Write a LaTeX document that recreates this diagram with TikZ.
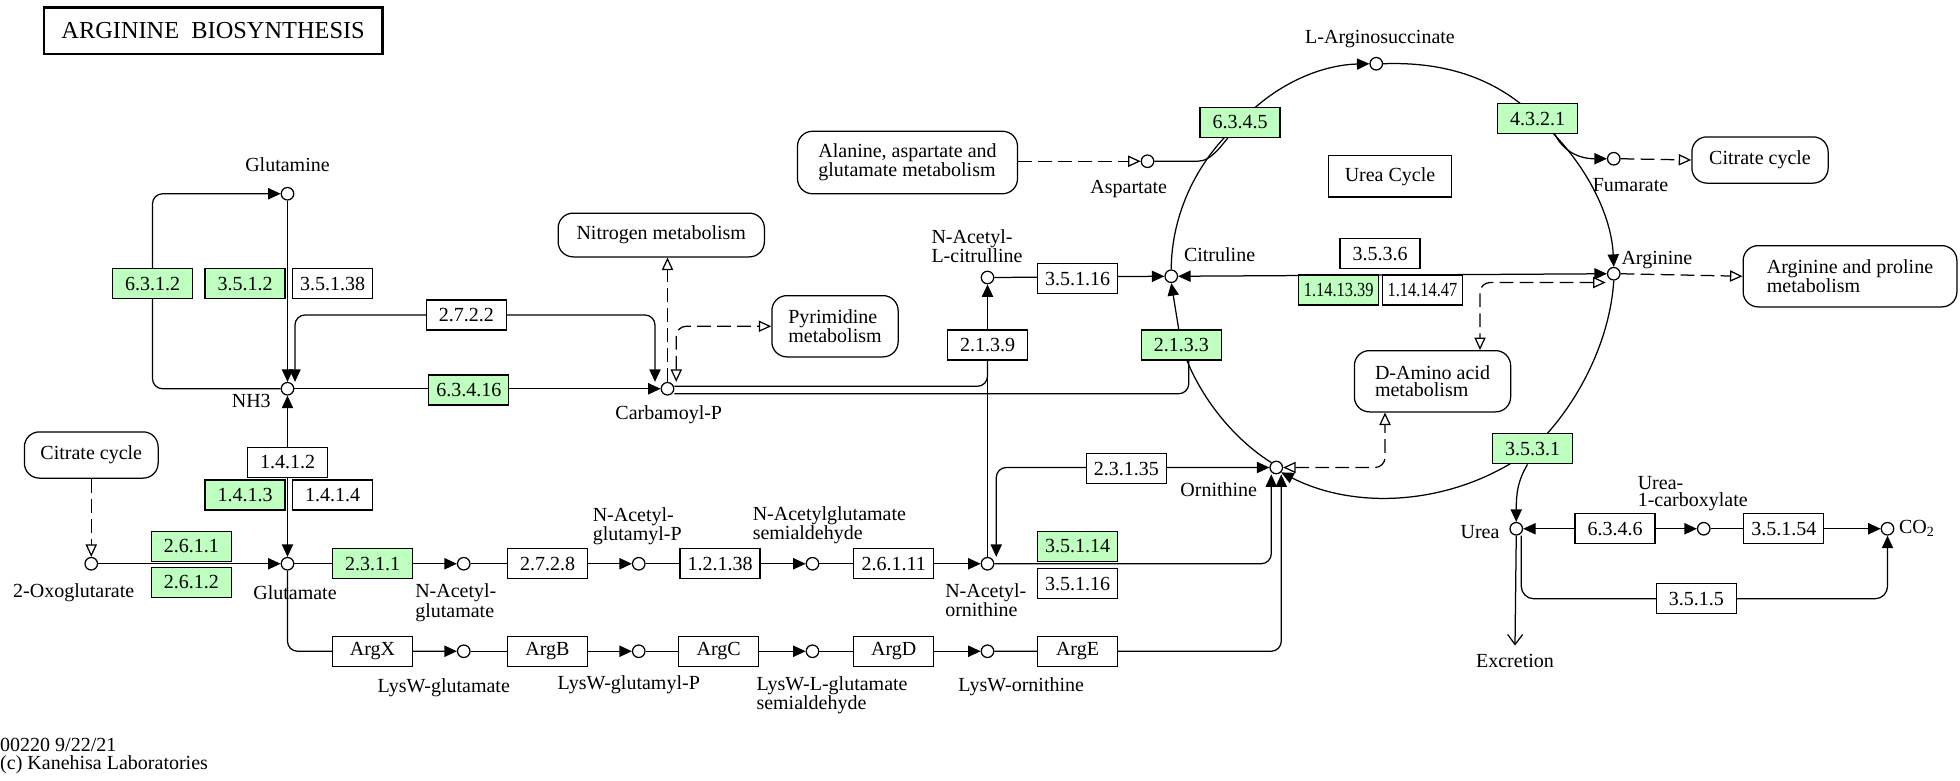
\documentclass[tikz,border=0pt]{standalone}
\usepackage{fontspec}
\setmainfont{Liberation Serif}
\usetikzlibrary{arrows.meta,calc,backgrounds}
\definecolor{kgreen}{RGB}{191,255,191}
\begin{document}
\begin{tikzpicture}[x=1pt,y=-1pt,
  every node/.style={font=\fontsize{16}{14}\selectfont},
  cpd/.style={circle,draw,fill=white,minimum size=10pt,inner sep=0pt,line width=1pt},
  enz/.style={draw,fill=white,minimum width=64pt,minimum height=24pt,inner sep=0pt,line width=1pt},
  genz/.style={enz,fill=kgreen},
  mapbox/.style={draw,rounded corners=12pt,fill=white,align=left,line width=1pt,inner sep=0pt},
  lbl/.style={inner sep=0pt},
  lbll/.style={inner sep=0pt,align=left,anchor=west},
  conn/.style={line width=1pt},
  arr/.style={conn,-{Triangle[length=10pt,width=9pt]}},
  arrb/.style={conn,{Triangle[length=10pt,width=9pt]}-{Triangle[length=10pt,width=9pt]}},
  oarr/.style={conn,dash pattern=on 11pt off 5pt,-{Triangle[open,length=10pt,width=9pt,fill=white]}},
  oarrb/.style={conn,dash pattern=on 11pt off 5pt,{Triangle[open,length=10pt,width=9pt,fill=white]}-{Triangle[open,length=10pt,width=9pt,fill=white]}},
]
\useasboundingbox (0,0) rectangle (1568,624);

% title
\node[draw,line width=2pt,minimum width=271pt,minimum height=37pt,inner sep=0pt,font=\fontsize{19.5}{20}\selectfont] (title) at (170.5,24.5) {ARGININE\ \ BIOSYNTHESIS};

% compounds
\node[cpd] (glutamine) at (230,155) {};
\node[cpd] (nh3) at (230,311) {};
\node[cpd] (carbp) at (534,311) {};
\node[cpd] (oxo) at (73,451) {};
\node[cpd] (glu) at (230,451) {};
\node[cpd] (nag) at (371,451) {};
\node[cpd] (nagp) at (511,451) {};
\node[cpd] (nags) at (650,451) {};
\node[cpd] (nao) at (790,451) {};
\node[cpd] (lwg) at (371,521) {};
\node[cpd] (lwgp) at (511,521) {};
\node[cpd] (lwgs) at (650,521) {};
\node[cpd] (lwo) at (790,521) {};
\node[cpd] (orn) at (1021,374) {};
\node[cpd] (nacit) at (790,222) {};
\node[cpd] (cit) at (937,221) {};
\node[cpd] (asp) at (918,129) {};
\node[cpd] (argsuc) at (1101,51) {};
\node[cpd] (fum) at (1291,127) {};
\node[cpd] (arg) at (1291,219) {};
\node[cpd] (urea) at (1213,423) {};
\node[cpd] (ucarb) at (1363,423) {};
\node[cpd] (co2) at (1510,423) {};

% enzymes
\node[genz] (e6312) at (122,227) {6.3.1.2};
\node[genz] (e3512) at (196,227) {3.5.1.2};
\node[enz] (e35138) at (266,227) {3.5.1.38};
\node[enz] (e2722) at (373,252) {2.7.2.2};
\node[genz] (e63416) at (375,312) {6.3.4.16};
\node[enz] (e1412) at (230,370) {1.4.1.2};
\node[genz] (e1413) at (196,396) {1.4.1.3};
\node[enz] (e1414) at (266,396) {1.4.1.4};
\node[genz] (e2611) at (153,437) {2.6.1.1};
\node[genz] (e2612) at (153,466) {2.6.1.2};
\node[genz] (e2311) at (298,451) {2.3.1.1};
\node[enz] (e2728) at (438,451) {2.7.2.8};
\node[enz] (e12138) at (576,451) {1.2.1.38};
\node[enz] (e26111) at (715,451) {2.6.1.11};
\node[genz] (e35114) at (862,437) {3.5.1.14};
\node[enz] (e35116b) at (862,467) {3.5.1.16};
\node[enz] (argX) at (298,521) {ArgX};
\node[enz] (argB) at (438,521) {ArgB};
\node[enz] (argC) at (575,521) {ArgC};
\node[enz] (argD) at (715,521) {ArgD};
\node[enz] (argE) at (862,521) {ArgE};
\node[enz] (e2139) at (790,276) {2.1.3.9};
\node[genz] (e2133) at (945,276) {2.1.3.3};
\node[enz] (e35116) at (862,223) {3.5.1.16};
\node[enz] (e23135) at (901,375) {2.3.1.35};
\node[genz] (e6345) at (992,98) {6.3.4.5};
\node[genz] (e4321) at (1230,95) {4.3.2.1};
\node[enz] (e3536) at (1104,203) {3.5.3.6};
\node[genz] (e1141339) at (1071,232) {\scalebox{0.82}[1]{1.14.13.39}};
\node[enz] (e1141447) at (1138,232) {\scalebox{0.82}[1]{1.14.14.47}};
\node[genz] (e3531) at (1226,359) {3.5.3.1};
\node[enz] (e6346) at (1292,423) {6.3.4.6};
\node[enz] (e35154) at (1427,423) {3.5.1.54};
\node[enz] (e3515) at (1357,479) {3.5.1.5};

% maps
\node[mapbox,minimum width=165pt,minimum height=35pt] (nitro) at (529,188) {Nitrogen metabolism};
\node[mapbox,minimum width=101pt,minimum height=49pt] (pyr) at (668,261) {Pyrimidine\\metabolism};
\node[mapbox,minimum width=176pt,minimum height=50pt] (ala) at (726,130) {Alanine, aspartate and\\glutamate metabolism};
\node[mapbox,minimum width=107pt,minimum height=37pt] (citL) at (73,364) {Citrate cycle};
\node[mapbox,minimum width=109pt,minimum height=37pt] (citR) at (1408,128) {Citrate cycle};
\node[mapbox,minimum width=171pt,minimum height=49pt] (argpro) at (1480,221) {Arginine and proline\\metabolism};
\node[mapbox,minimum width=125pt,minimum height=49pt] (damino) at (1146,305) {D-Amino acid\\metabolism};
\node[draw,line width=1pt,minimum width=98pt,minimum height=33pt,inner sep=0pt] (ucyc) at (1112,141) {Urea Cycle};

% labels
\node[lbl] (tglutamine) at (230,132) {Glutamine};
\node[lbl] (tnh3) at (201,321) {NH3};
\node[lbl] (tcarbp) at (535,332) {Carbamoyl-P};
\node[lbl] (toxo) at (59,474) {2-Oxoglutarate};
\node[lbl] (tglu) at (236,474) {Glutamate};
\node[lbll] (tnag) at (332,482) {N-Acetyl-\\glutamate};
\node[lbll] (tnagp) at (474,421) {N-Acetyl-\\glutamyl-P};
\node[lbll] (tnags) at (602,420) {N-Acetylglutamate\\semialdehyde};
\node[lbll] (tnao) at (756,480) {N-Acetyl-\\ornithine};
\node[lbl] (tlwg) at (355,550) {LysW-glutamate};
\node[lbl] (tlwgp) at (503,548) {LysW-glutamyl-P};
\node[lbll] (tlwgs) at (605,556) {LysW-L-glutamate\\semialdehyde};
\node[lbl] (tlwo) at (817,549) {LysW-ornithine};
\node[lbll] (tnacit) at (745,197) {N-Acetyl-\\L-citrulline};
\node[lbll] (tcit) at (947,204) {Citruline};
\node[lbl] (torn) at (975,392) {Ornithine};
\node[lbl] (tasp) at (903,151) {Aspartate};
\node[lbl] (targsuc) at (1104,31) {L-Arginosuccinate};
\node[lbll] (tfum) at (1274,148) {Fumarate};
\node[lbll] (targ) at (1297,208) {Arginine};
\node[lbl] (turea) at (1184,426) {Urea};
\node[lbll] (tucarb) at (1310,395) {Urea-\\1-carboxylate};
\node[lbll] (tco2) at (1519,423) {CO\textsubscript{2}};
\node[lbl] (excr) at (1212,529) {Excretion};
\node[lbll] (foot1) at (0,596) {00220 9/22/21};
\node[lbll] (foot2) at (0,612) {(c) Kanehisa Laboratories};

\begin{scope}[on background layer]
% glutamine / NH3 / carbamoyl-P
\draw[arr,rounded corners=8pt] (nh3.west) -| (e6312.center) |- (glutamine.west);
\draw[arr] (glutamine.south) -- (nh3.north);
\draw[arrb,rounded corners=8pt] ([xshift=6pt]nh3.north) |- (e2722.center) -| ([xshift=-10pt]carbp.north);
\draw[arr] (nh3.east) -- (carbp.west);
\draw[oarr] (carbp.north) -- (carbp.north |- nitro.south);
\draw[oarrb,rounded corners=8pt] ([xshift=7pt]carbp.north) |- (pyr.west);
\draw[conn,rounded corners=8pt] ($(carbp.east)+(0,-2)$) -| (e2139.center);
\draw[conn,rounded corners=8pt] ($(carbp.east)+(0,4)$) -| ([xshift=6pt]e2133.south);
% N-acetyl citrulline
\draw[arr] (nao.north) -- (nacit.south);
\draw[arr] (nacit.east) -- (cit.west);
% ornithine inputs
\draw[arrb,rounded corners=8pt] ([xshift=7pt]nao.north) |- (orn.west);
\draw[arr,rounded corners=8pt] (nao.east) -| ([xshift=-4pt]orn.south);
\draw[arr,rounded corners=8pt] (lwo.east) -| ([xshift=4pt]orn.south);
% main rows
\draw[arr] (oxo.east) -- (glu.west);
\draw[oarr] (citL.south) -- (oxo.north);
\draw[arrb] (nh3.south) -- (glu.north);
\draw[arr] (glu.east) -- (nag.west);
\draw[arr] (nag.east) -- (nagp.west);
\draw[arr] (nagp.east) -- (nags.west);
\draw[arr] (nags.east) -- (nao.west);
\draw[arr,rounded corners=8pt] (glu.south) |- (lwg.west);
\draw[arr] (lwg.east) -- (lwgp.west);
\draw[arr] (lwgp.east) -- (lwgs.west);
\draw[arr] (lwgs.east) -- (lwo.west);
% urea cycle
\draw[arr] (cit.north) .. controls (937,174) and (956,129) .. (e6345.center) .. controls (1018,69) and (1055,52) .. (argsuc.west);
\draw[conn] (asp.east) -- (958,129) .. controls (970,129) and (978,115) .. (e6345.center);
\draw[oarr] (ala.east |- asp.west) -- (asp.west);
\draw[arr] (argsuc.east) .. controls (1160,49) and (1200,65) .. (e4321.center) .. controls (1264,124) and (1289,168) .. (arg.north);
\draw[arr] ([xshift=14pt]e4321.south) .. controls (1250,120) and (1262,127) .. (fum.west);
\draw[oarr] (fum.east) -- (citR.west);
\draw[oarr] (arg.east) -- (argpro.west);
\draw[arrb] (cit.east) -- (arg.west);
\draw[oarrb,rounded corners=8pt] ($(arg.west)+(-1,7)$) -| ($(damino.north east)+(-25,0)$);
\draw[oarrb,rounded corners=8pt] (orn.east) -| ($(damino.south west)+(25,0)$);
\draw[arr] (arg.south) .. controls (1288,273) and (1262,325) .. (e3531.center) .. controls (1168,403) and (1088,410) .. (orn.south east);
\draw[arr] (orn.north west) .. controls (985,350) and (957,314) .. (e2133.center) -- (cit.south);
% urea
\draw[arr] ([xshift=-4pt]e3531.south) .. controls (1214,385) and (1213,395) .. (urea.north);
\draw[arrb] (urea.east) -- (ucarb.west);
\draw[arr] (ucarb.east) -- (co2.west);
\draw[arr,rounded corners=10pt] ([xshift=4pt]urea.south) |- (e3515.center) -| (co2.south);
\draw[conn,-{Straight Barb[length=8pt,width=12pt]}] (urea.south) -- ($(excr.north)+(0,-7)$);
\end{scope}
\end{tikzpicture}
\end{document}
